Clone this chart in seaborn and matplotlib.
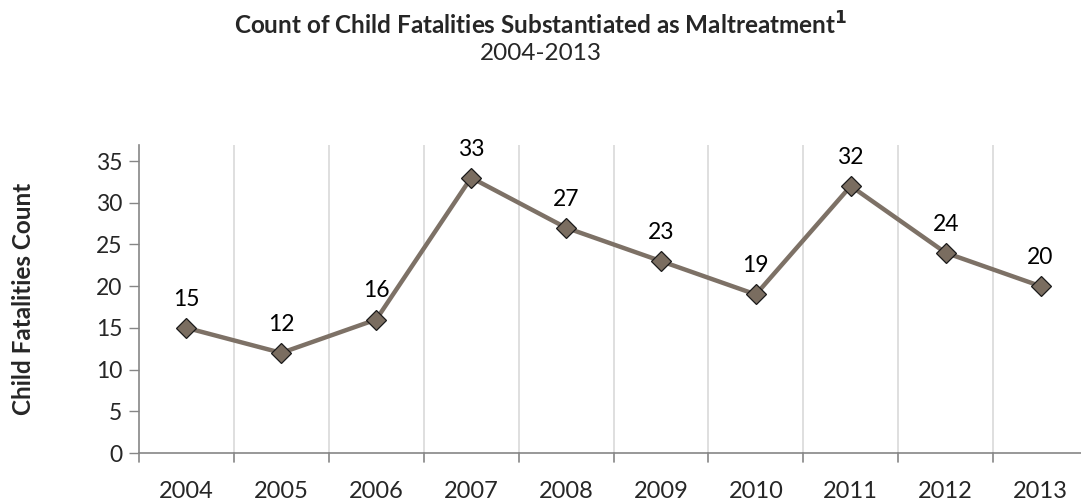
import matplotlib
matplotlib.use("Agg")
import matplotlib.pyplot as plt
import seaborn as sns
import pandas as pd

years = ["2004", "2005", "2006", "2007", "2008", "2009", "2010", "2011", "2012", "2013"]
counts = [15, 12, 16, 33, 27, 23, 19, 32, 24, 20]
y_ticks = [0, 5, 10, 15, 20, 25, 30, 35]

sns.set_theme(style="white")
plt.rcParams["font.family"] = ["Lato", "DejaVu Sans"]

df = pd.DataFrame({"year": years, "count": counts})

W, H = 1081, 500
fig = plt.figure(figsize=(W / 100, H / 100), dpi=100)
left, right, top, bottom = 139, 1088, 145, 453
ax = fig.add_axes([left / W, 1 - bottom / H, (right - left) / W, (bottom - top) / H])

line_color = "#7d7166"
sns.lineplot(data=df, x="year", y="count", ax=ax, color=line_color, linewidth=3.2,
             marker="D", markersize=10, markerfacecolor="#7a6d60",
             markeredgecolor="#1a1a1a", markeredgewidth=0.9, sort=False)

for i, v in enumerate(counts):
    ax.annotate(str(v), (i, v), xytext=(0, 13), textcoords="offset points",
                ha="center", va="bottom", fontsize=16.5, color="black")

n = len(years)
ax.set_xlim(-0.5, n - 0.5)
ax.set_ylim(0, 35 * (bottom - top) / (bottom - 161))
ax.set_yticks(y_ticks)
ax.set_yticklabels([str(t) for t in y_ticks], fontsize=16.5)
ax.set_xticks(range(n))
ax.set_xticklabels(years, fontsize=17)
ax.tick_params(axis="x", length=0, pad=20)
ax.tick_params(axis="y", length=7, width=1, color="#868686", pad=5, left=True)

# category boundaries: gridlines and downward ticks
for b in range(1, n):
    ax.axvline(b - 0.5, color="#d9d9d9", linewidth=1.2, zorder=0)
for b in range(0, n + 1):
    ax.plot([b - 0.5, b - 0.5], [0, -1.1], color="#868686", linewidth=1.2,
            clip_on=False)

for s in ["top", "right"]:
    ax.spines[s].set_visible(False)
for s in ["left", "bottom"]:
    ax.spines[s].set_color("#868686")
    ax.spines[s].set_linewidth(1.2)

ax.set_xlabel("")
ax.set_ylabel("Child Fatalities Count", fontsize=17.5, fontweight="bold")
ax.yaxis.set_label_coords((35 - left) / (right - left), 0.5)

fig.text(0.5, 1 - 25 / H, r"Count of Child Fatalities Substantiated as Maltreatment$^{\mathbf{1}}$",
         ha="center", va="center", fontsize=17.5, fontweight="bold")
fig.text(0.5, 1 - 54 / H, "2004-2013", ha="center", va="center", fontsize=17.5)

fig.savefig("out.png", dpi=100)
